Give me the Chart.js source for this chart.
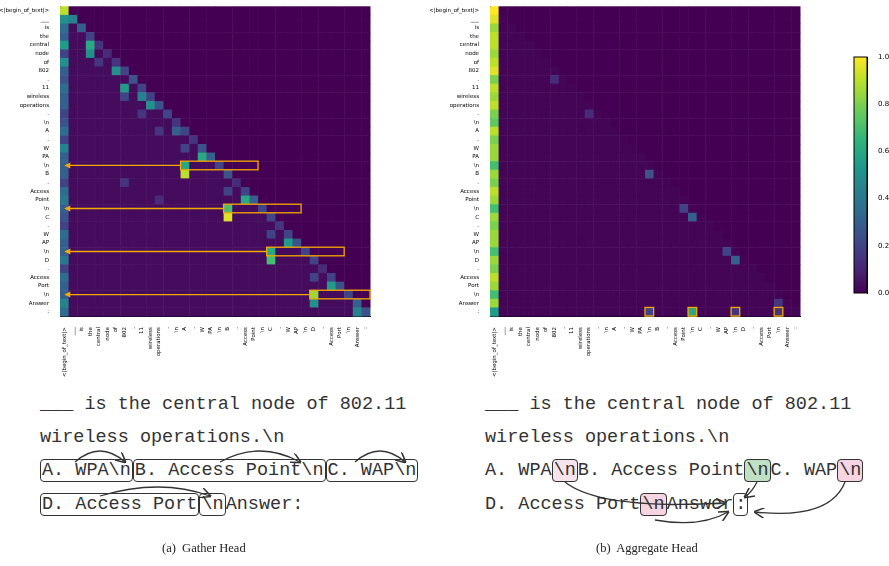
<!DOCTYPE html>
<html><head><meta charset="utf-8">
<script src="https://cdn.jsdelivr.net/npm/chart.js@4"></script>
<style>
body{margin:0;width:889px;height:566px;background:#fff;position:relative;overflow:hidden;font-family:"Liberation Mono",monospace}
canvas{position:absolute}
.t{position:absolute;font-size:18.5px;color:#333;white-space:pre;font-family:"Liberation Mono",monospace}
.b{border:1.3px solid #333;border-radius:4px;padding:0 1px}
.cap{position:absolute;font-family:"Liberation Serif",serif;font-size:12.5px;color:#222}
</style></head><body>
<canvas id="c1" style="left:0;top:0" width="380" height="380"></canvas>
<canvas id="c2" style="left:430px;top:0" width="380" height="380"></canvas>
<canvas id="cb" style="left:838px;top:45px" width="51" height="260"></canvas>
<script>
const tokens=["<|begin_of_text|>","___","is","the","central","node","of","802",".","11","wireless","operations",".","\\n","A",".","W","PA","\\n","B",".","Access","Point","\\n","C",".","W","AP","\\n","D",".","Access","Port","\\n","Answer",":"];
const gatherFirstCol=[0.9,0.5,0.35,0.3,0.55,0.2,0.5,0.3,0.25,0.35,0.3,0.3,0.2,0.25,0.35,0.2,0.45,0.3,0.3,0.3,0.2,0.35,0.4,0.3,0.25,0.2,0.35,0.3,0.3,0.4,0.2,0.35,0.3,0.3,0.45,0.35];
const gatherDiag=[0,0.45,0.3,0.2,0.15,0.12,0.15,0.2,0.25,0.2,0.2,0.25,0.2,0.15,0.2,0.15,0.25,0.3,0.2,0.25,0.12,0.2,0.3,0.2,0.2,0.15,0.2,0.25,0.2,0.2,0.12,0.2,0.25,0.2,0.3,0.25];
const gatherCells=[[4,3,0.6],[5,3,0.5],[7,6,0.5],[9,7,0.55],[10,9,0.45],[11,10,0.5],[14,13,0.3],[17,16,0.6],[18,14,0.6],[19,14,0.9],[22,21,0.6],[23,19,0.7],[24,19,0.95],[27,26,0.55],[28,24,0.6],[29,24,0.7],[32,31,0.55],[33,29,0.85],[34,29,0.5],[35,34,0.45],[6,4,0.15],[10,7,0.2],[12,9,0.15],[14,11,0.15],[16,14,0.2],[21,19,0.2],[26,24,0.2],[31,29,0.2],[20,7,0.15],[22,11,0.12]];
const aggFirstCol=[1,0.95,0.85,0.9,0.9,0.85,0.9,0.95,0.8,0.9,0.85,0.9,0.8,0.75,0.9,0.8,0.85,0.85,0.7,0.85,0.8,0.9,0.85,0.7,0.85,0.8,0.85,0.85,0.7,0.85,0.8,0.9,0.85,0.7,0.85,0.55];
const aggCells=[[35,18,0.2],[35,23,0.6],[35,28,0.15],[35,33,0.15],[19,18,0.25],[24,23,0.3],[29,28,0.3],[23,22,0.2],[28,27,0.2],[8,7,0.12],[12,11,0.12],[34,33,0.15]];
const gatherBoxes=[[18,14,18],[23,19,23],[28,24,28],[33,29,33]];
const aggBoxes=[[35,18,18],[35,23,23],[35,28,28],[35,33,33]];
const cbTicks=[0,0.2,0.4,0.6,0.8,1.0];

const stops=[[68,1,84],[72,40,120],[62,74,137],[49,104,142],[38,130,142],[31,158,137],[53,183,121],[109,205,89],[180,222,44],[253,231,37]];
function vir(v){v=Math.max(0,Math.min(1,v));const p=v*(stops.length-1),i=Math.min(stops.length-2,Math.floor(p)),f=p-i;const a=stops[i],b=stops[i+1];return `rgb(${a.map((x,k)=>Math.round(x+(b[k]-x)*f)).join(',')})`;}
function build(first,diag,cells,bg){const n=tokens.length;const m=[];for(let r=0;r<n;r++){m.push([]);for(let c=0;c<n;c++)m[r].push(c<=r?bg:0);m[r][0]=first[r];if(diag)m[r][r]=Math.max(m[r][r],diag[r]);}
cells.forEach(([r,c,v])=>m[r][c]=v);return m;}
const gm=build(gatherFirstCol,gatherDiag,gatherCells,0.03);
const am=build(aggFirstCol,null,aggCells,0.01);
function mk(id,mat,boxes,arrows){
 const n=tokens.length;
 new Chart(document.getElementById(id),{type:'scatter',data:{datasets:[{data:[]}]},
 options:{responsive:false,animation:false,layout:{padding:{top:5,right:10}},plugins:{legend:{display:false},tooltip:{enabled:false}},
 scales:{x:{min:-0.5,max:n-0.5,grid:{display:false},border:{color:'#000'},afterBuildTicks:a=>{a.ticks=tokens.map((t,i)=>({value:i}))},
   ticks:{autoSkip:false,maxRotation:90,minRotation:90,font:{size:5.5,family:'DejaVu Sans'},color:'#000',callback:(v)=>tokens[v]}},
  y:{min:-0.5,max:n-0.5,reverse:true,grid:{display:false},border:{color:'#000'},afterFit:s=>{s.width=60},afterBuildTicks:a=>{a.ticks=tokens.map((t,i)=>({value:i}))},
   ticks:{autoSkip:false,font:{size:5.5,family:'DejaVu Sans'},color:'#000',callback:(v)=>tokens[v]}}}},
 plugins:[{id:'hm',beforeDatasetsDraw(ch){const ctx=ch.ctx,x=ch.scales.x,y=ch.scales.y;
  for(let r=0;r<n;r++)for(let c=0;c<n;c++){const x0=x.getPixelForValue(c-0.5),x1=x.getPixelForValue(c+0.5),y0=y.getPixelForValue(r-0.5),y1=y.getPixelForValue(r+0.5);ctx.fillStyle=vir(mat[r][c]);ctx.fillRect(x0,y0,x1-x0+0.5,y1-y0+0.5);}
  ctx.strokeStyle='#f5a800';ctx.lineWidth=1.3;
  boxes.forEach(([r,c0,c1])=>{const x0=x.getPixelForValue(c0-0.5),x1=x.getPixelForValue(arrows?Math.min(n-1,c1+4)+0.5:c1+0.5),y0=y.getPixelForValue(r-0.5),y1=y.getPixelForValue(r+0.5);ctx.strokeRect(x0,y0,x1-x0,y1-y0);
   if(arrows){const ym=(y0+y1)/2,xl=x.getPixelForValue(0);ctx.beginPath();ctx.moveTo(x0,ym);ctx.lineTo(xl+2,ym);ctx.stroke();ctx.fillStyle='#f5a800';ctx.beginPath();ctx.moveTo(xl,ym);ctx.lineTo(xl+6,ym-3);ctx.lineTo(xl+6,ym+3);ctx.fill();}});
 }}]});
}
mk('c1',gm,gatherBoxes,true);
mk('c2',am,aggBoxes,false);
new Chart(document.getElementById('cb'),{type:'scatter',data:{datasets:[{data:[]}]},
 options:{responsive:false,animation:false,layout:{padding:{top:12,bottom:12,left:16,right:0}},plugins:{legend:{display:false},tooltip:{enabled:false}},
 scales:{x:{display:false},y:{position:'right',min:0,max:1,grid:{display:false},border:{color:'#000'},afterFit:s=>{s.width=22},afterBuildTicks:a=>{a.ticks=cbTicks.map(v=>({value:v}))},ticks:{padding:3,font:{size:7,family:'DejaVu Sans'},color:'#000',callback:v=>v.toFixed(1)}}}},
 plugins:[{id:'g',beforeDatasetsDraw(ch){const a=ch.chartArea,ctx=ch.ctx;const g=ctx.createLinearGradient(0,a.bottom,0,a.top);for(let i=0;i<=20;i++)g.addColorStop(i/20,vir(i/20));ctx.fillStyle=g;ctx.fillRect(a.left,a.top,a.right-a.left,a.bottom-a.top);ctx.strokeStyle='#000';ctx.strokeRect(a.left,a.top,a.right-a.left,a.bottom-a.top);}}]});
</script>
<div class="t" style="left:40px;top:394px">___ is the central node of 802.11</div>
<div class="t" style="left:40px;top:427px">wireless operations.\n</div>
<div class="t" style="left:40px;top:460px"><span class="b">A. WPA\n</span><span class="b">B. Access Point\n</span><span class="b">C. WAP\n</span></div>
<div class="t" style="left:40px;top:494px"><span class="b">D. Access Port</span><span class="b">\n</span>Answer:</div>
<div class="t" style="left:485px;top:394px">___ is the central node of 802.11</div>
<div class="t" style="left:485px;top:427px">wireless operations.\n</div>
<div class="t" style="left:485px;top:460px">A. WPA<span class="b" style="background:#f6e3ec">\n</span>B. Access Point<span class="b" style="background:#bfe0c4">\n</span>C. WAP<span class="b" style="background:#f6d4e2">\n</span></div>
<div class="t" style="left:485px;top:494px">D. Access Port<span class="b" style="background:#f6d4e2">\n</span>Answer<span class="b">:</span></div>
<svg style="position:absolute;left:0;top:0" width="889" height="566">
<defs><marker id="ar" markerWidth="8" markerHeight="8" refX="7" refY="4" orient="auto"><path d="M0,0 L8,4 L0,8" fill="none" stroke="#333" stroke-width="1.2"/></marker></defs>
<g fill="none" stroke="#333" stroke-width="1.3" marker-end="url(#ar)">
<path d="M75,462 Q100,440 125,462"/><path d="M220,462 Q260,440 300,462"/><path d="M355,462 Q380,440 405,462"/><path d="M100,496 Q160,478 210,496"/>
<path d="M565,482 Q600,510 725,503"/><path d="M757,482 Q752,492 745,497"/><path d="M845,482 Q830,520 755,512"/><path d="M655,520 Q700,528 728,512"/>
</g></svg>
<div class="cap" style="left:162px;top:541px">(a)&nbsp; Gather Head</div>
<div class="cap" style="left:596px;top:541px">(b)&nbsp; Aggregate Head</div>
</body></html>
